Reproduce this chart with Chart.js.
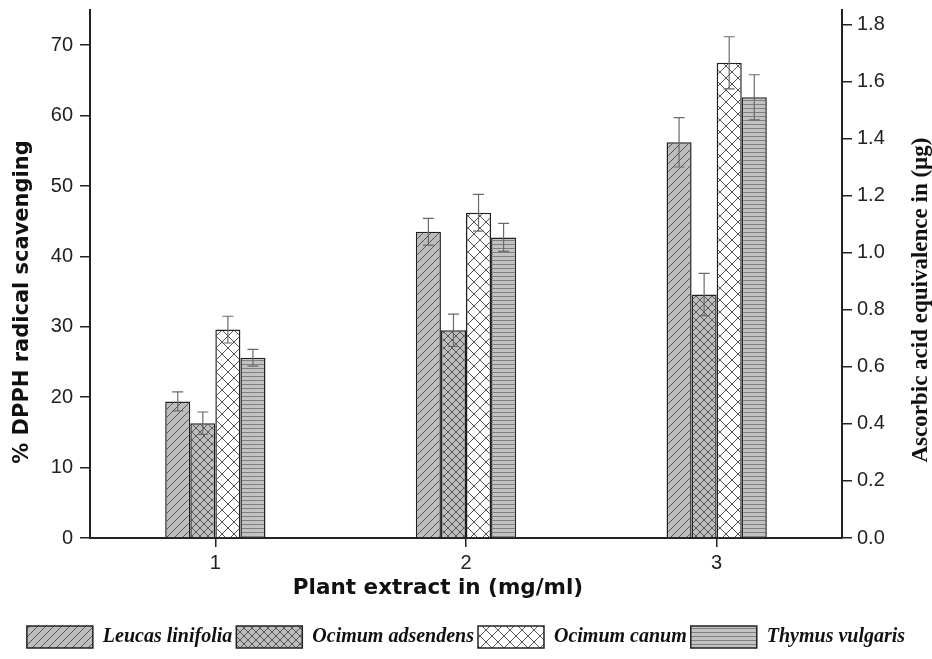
<!DOCTYPE html>
<html>
<head>
<meta charset="utf-8">
<script src="https://cdn.jsdelivr.net/npm/chart.js@4"></script>
<style>
  html, body { margin: 0; padding: 0; background: #ffffff; }
  #wrap { width: 932px; height: 659px; position: relative; }
</style>
</head>
<body>
<div id="wrap"><canvas id="c" width="932" height="659"></canvas></div>
<script>
// ---- data ----
const categories = ['1', '2', '3'];
const seriesNames = ['Leucas linifolia', 'Ocimum adsendens', 'Ocimum canum', 'Thymus vulgaris'];
const leucasValues   = [19.4, 43.5, 56.2];
const leucasErrors   = [1.35, 1.9, 3.5];
const adsendensValues = [16.3, 29.5, 34.6];
const adsendensErrors = [1.6, 2.3, 3.0];
const canumValues    = [29.6, 46.2, 67.5];
const canumErrors    = [1.9, 2.6, 3.7];
const thymusValues   = [25.6, 42.7, 62.6];
const thymusErrors   = [1.2, 2.0, 3.2];
const leftTicks  = [0, 10, 20, 30, 40, 50, 60, 70];
const rightTicks = [0.0, 0.2, 0.4, 0.6, 0.8, 1.0, 1.2, 1.4, 1.6, 1.8];
const xTitle = 'Plant extract in (mg/ml)';
const yTitle = '% DPPH radical scavenging';
const y2Title = 'Ascorbic acid equivalence in (\u00b5g)';

// ---- patterns ----
function makePattern(w, h, bg, drawFn) {
  const cv = document.createElement('canvas');
  cv.width = w; cv.height = h;
  const g = cv.getContext('2d');
  g.fillStyle = bg; g.fillRect(0, 0, w, h);
  drawFn(g, w, h);
  return document.getElementById('c').getContext('2d').createPattern(cv, 'repeat');
}
const diagPattern = makePattern(8, 8, '#bdbdbd', (g, w, h) => {
  g.strokeStyle = '#555'; g.lineWidth = 1;
  g.beginPath();
  g.moveTo(-2, h + 2); g.lineTo(w + 2, -2);
  g.moveTo(-2, 2); g.lineTo(2, -2);
  g.moveTo(w - 2, h + 2); g.lineTo(w + 2, h - 2);
  g.stroke();
});
function cross(g, w, h) {
  g.strokeStyle = '#555'; g.lineWidth = 1;
  g.beginPath();
  g.moveTo(0, 0); g.lineTo(w, h);
  g.moveTo(w, 0); g.lineTo(0, h);
  g.stroke();
}
const smallCross = makePattern(8, 8, '#bdbdbd', cross);
const bigCross = makePattern(12, 12, '#ffffff', cross);
const hLines = makePattern(4, 4, '#c2c2c2', (g, w, h) => {
  g.fillStyle = '#808080'; g.fillRect(0, 0, w, 1);
});

const seriesValues = [leucasValues, adsendensValues, canumValues, thymusValues];
const seriesErrors = [leucasErrors, adsendensErrors, canumErrors, thymusErrors];
const seriesFills = [diagPattern, smallCross, bigCross, hLines];

const datasets = seriesNames.map((name, i) => ({
  label: name,
  data: seriesValues[i],
  errors: seriesErrors[i],
  backgroundColor: seriesFills[i],
  borderColor: '#222',
  borderWidth: 1.5,
  categoryPercentage: 0.4,
  barPercentage: 1.0,
  yAxisID: 'y'
}));

const errorBars = {
  id: 'errorBars',
  afterDatasetsDraw(chart) {
    const ctx = chart.ctx;
    const ys = chart.scales.y;
    ctx.save();
    ctx.strokeStyle = '#6a6a6a';
    ctx.lineWidth = 1.2;
    chart.data.datasets.forEach((ds, i) => {
      const meta = chart.getDatasetMeta(i);
      meta.data.forEach((bar, j) => {
        const v = ds.data[j], e = ds.errors[j];
        const x = bar.x;
        const yt = ys.getPixelForValue(v + e);
        const yb = ys.getPixelForValue(v - e);
        const cw = 5.5;
        ctx.beginPath();
        ctx.moveTo(x, yt); ctx.lineTo(x, yb);
        ctx.moveTo(x - cw, yt); ctx.lineTo(x + cw, yt);
        ctx.moveTo(x - cw, yb); ctx.lineTo(x + cw, yb);
        ctx.stroke();
      });
    });
    ctx.restore();
  }
};

const titles = {
  id: 'titles',
  afterDraw(chart) {
    const ctx = chart.ctx;
    ctx.save();
    ctx.fillStyle = '#111';
    ctx.textAlign = 'center';
    ctx.textBaseline = 'middle';
    ctx.font = 'bold 21.5px "DejaVu Sans"';
    ctx.fillText(xTitle, 438, 588);
    ctx.font = 'bold 21px "DejaVu Sans"';
    ctx.save();
    ctx.translate(23, 302);
    ctx.rotate(-Math.PI / 2);
    ctx.fillText(yTitle, 0, 0);
    ctx.restore();
    ctx.save();
    ctx.translate(921, 300);
    ctx.rotate(-Math.PI / 2);
    ctx.font = 'bold 23px "Liberation Serif"';
    ctx.fillText(y2Title, 0, 0);
    ctx.restore();
    ctx.restore();
  }
};

const tickFont = { family: '"Liberation Sans", Arial', size: 20 };

new Chart(document.getElementById('c'), {
  type: 'bar',
  data: { labels: categories, datasets },
  plugins: [errorBars, titles],
  options: {
    responsive: false,
    animation: false,
    layout: { padding: { top: 10, bottom: 1, left: 0, right: 0 } },
    plugins: {
      tooltip: { enabled: false },
      legend: {
        position: 'bottom',
        labels: {
          boxWidth: 66,
          boxHeight: 22,
          padding: 4,
          color: '#111',
          font: { family: '"Liberation Serif", "Times New Roman", serif', size: 20, style: 'italic', weight: 'bold' }
        }
      }
    },
    scales: {
      x: {
        type: 'category',
        offset: true,
        grid: { offset: false, drawOnChartArea: false, drawTicks: true, tickLength: 9, color: '#222', lineWidth: 1.5 },
        border: { display: true, color: '#222', width: 2 },
        ticks: { font: tickFont, color: '#222', padding: 4 },
        afterFit(s) { s.height = 84; s.paddingLeft = 0; s.paddingRight = 0; }
      },
      y: {
        position: 'left',
        min: 0, max: 75,
        afterBuildTicks(s) { s.ticks = leftTicks.map(v => ({ value: v })); },
        grid: { drawOnChartArea: false, drawTicks: true, tickLength: 10, color: '#222', lineWidth: 1.5 },
        border: { display: true, color: '#222', width: 2 },
        ticks: { font: tickFont, color: '#222', padding: 7 },
        afterFit(s) { s.width = 90; s.paddingTop = 0; s.paddingBottom = 0; }
      },
      y2: {
        position: 'right',
        min: 0, max: 1.85,
        afterBuildTicks(s) { s.ticks = rightTicks.map(v => ({ value: v })); },
        grid: { drawOnChartArea: false, drawTicks: true, tickLength: 10, color: '#222', lineWidth: 1.5 },
        border: { display: true, color: '#222', width: 2 },
        ticks: { font: tickFont, color: '#222', padding: 5, callback: v => Number(v).toFixed(1) },
        afterFit(s) { s.width = 90; s.paddingTop = 0; s.paddingBottom = 0; }
      }
    }
  }
});
</script>
</body>
</html>
